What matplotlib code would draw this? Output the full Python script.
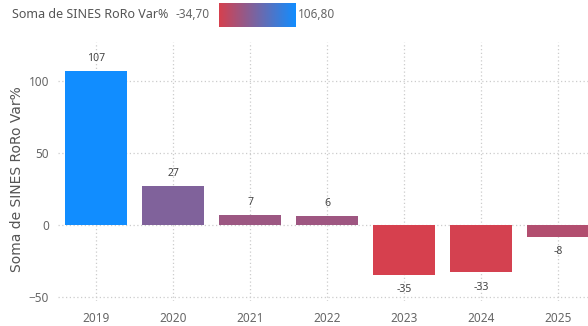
import numpy as np
import matplotlib
matplotlib.use("Agg")
import matplotlib.pyplot as plt
from matplotlib.colors import LinearSegmentedColormap, Normalize

years = ["2019", "2020", "2021", "2022", "2023", "2024", "2025"]
var_pct = [106.8, 26.8, 6.9, 6.1, -34.7, -32.8, -8.3]
bar_labels = ["107", "27", "7", "6", "-35", "-33", "-8"]
y_ticks = [-50, 0, 50, 100]
measure = "Soma de SINES RoRo Var%"

plt.rcParams["font.family"] = ["Noto Sans", "DejaVu Sans"]

low_col = "#d6404e"
high_col = "#118dff"
cmap = LinearSegmentedColormap.from_list("rr", [low_col, high_col])
norm = Normalize(vmin=min(var_pct), vmax=max(var_pct))

fig = plt.figure(figsize=(5.88, 3.26), dpi=100)
ax = fig.add_axes([0.0978, 0.077, 0.917, 0.794])

x = np.arange(len(years))
colors = [cmap(norm(v)) for v in var_pct]
ax.bar(x, var_pct, width=0.8, color=colors, zorder=3)

for xi, v, lab in zip(x, var_pct, bar_labels):
    if v >= 0:
        ax.annotate(lab, (xi, v), xytext=(0, 5), textcoords="offset points",
                    ha="center", va="bottom", fontsize=7.5, color="#444444")
    else:
        ax.annotate(lab, (xi, v), xytext=(0, -7), textcoords="offset points",
                    ha="center", va="top", fontsize=7.5, color="#444444")

ax.set_xlim(-0.5, 6.5)
ax.set_ylim(-53, 127)
ax.set_xticks(x)
ax.set_xticklabels(years)
ax.set_yticks(y_ticks)
ax.tick_params(axis="both", length=0, labelsize=8.5, colors="#666666")
ax.tick_params(axis="x", pad=8)
ax.tick_params(axis="y", pad=6)
for s in ax.spines.values():
    s.set_visible(False)
ax.grid(True, axis="both", linestyle=(0, (1, 2)), color="#cccccc", linewidth=0.9, zorder=0)
ax.set_ylabel(measure, fontsize=10, color="#555555", labelpad=5, family="DejaVu Sans")
ax.yaxis.set_label_coords(-0.063, 0.47)

# gradient legend on top
fig.text(0.02, 0.957, measure, fontsize=9, color="#555555", fontweight="semibold",
         va="center", ha="left")
fig.text(0.298, 0.957, "-34,70", fontsize=8.5, color="#666666", va="center", ha="left")
fig.text(0.507, 0.957, "106,80", fontsize=8.5, color="#666666", va="center", ha="left")
lax = fig.add_axes([0.372, 0.917, 0.130, 0.074])
lax.imshow(np.linspace(0, 1, 256)[None, :], aspect="auto", cmap=cmap)
lax.set_axis_off()

fig.savefig("out.png", dpi=100)
